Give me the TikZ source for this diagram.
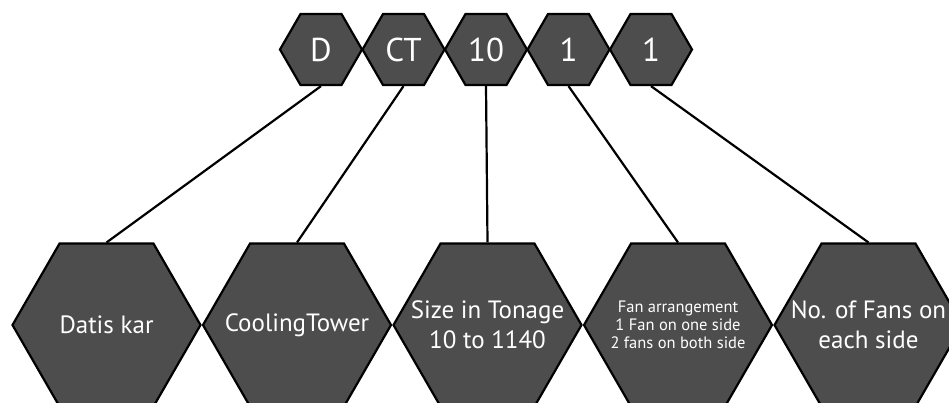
\documentclass[tikz,border=0pt]{standalone}
\usepackage{fontspec}
\setmainfont{PT Sans}
\usetikzlibrary{shapes.geometric}
\definecolor{hexgray}{HTML}{4D4D4D}
\tikzset{
	hex/.style = {regular polygon, regular polygon sides = 6, draw = black, line width = 2.2pt, fill = hexgray, inner sep = 0pt},
	codehex/.style = {hex, minimum size = 82pt, text = white, font = \fontsize{33}{38}\selectfont},
	namehex/.style = {hex, minimum size = 188pt},
	nametext/.style = {text = white, align = center, inner sep = 0pt, font = \fontsize{25}{30}\selectfont},
	smalltext/.style = {nametext, font = \fontsize{16.5}{18}\selectfont},
	link/.style = {line width = 2.2pt}
}
\begin{document}
\begin{tikzpicture}[x = 1pt, y = -1pt]
		\useasboundingbox (0, 0) rectangle (949, 402);
		\clip (0, 0) rectangle (949, 402);
		% code row
		\node[codehex] (cd) at (321, 49.5) {D};
		\node[codehex] (cct) at (403.5, 49.5) {CT};
		\node[codehex] (csize) at (486, 49.5) {10};
		\node[codehex] (carr) at (568.5, 49.5) {1};
		\node[codehex] (cnum) at (651, 49.5) {1};
		%%%%%%%%%
		% meaning row
		\node[namehex] (maker) at (106.5, 325) {};
		\node[namehex] (tower) at (297, 325) {};
		\node[namehex] (size) at (487.5, 325) {};
		\node[namehex] (arr) at (678, 325) {};
		\node[namehex] (num) at (868.5, 325) {};
		\node[nametext] (makertext) at (maker) {Datis kar};
		\node[nametext] (towertext) at (tower) {CoolingTower};
		\node[nametext] (sizetext) at (size) {Size in Tonage\\10 to 1140};
		\node[smalltext] (arrtext) at (arr) {Fan arrangement\\1 Fan on one side\\2 fans on both side};
		\node[nametext] (numtext) at (num) {No. of Fans on\\each side};
		%%%%%%%%%
		\draw[link] (cd.south) -- (maker.north);
		\draw[link] (cct.south) -- (tower.north);
		\draw[link] (csize.south) -- (size.north);
		\draw[link] (carr.south) -- (arr.north);
		\draw[link] (cnum.south) -- (num.north);
	\end{tikzpicture}
\end{document}
